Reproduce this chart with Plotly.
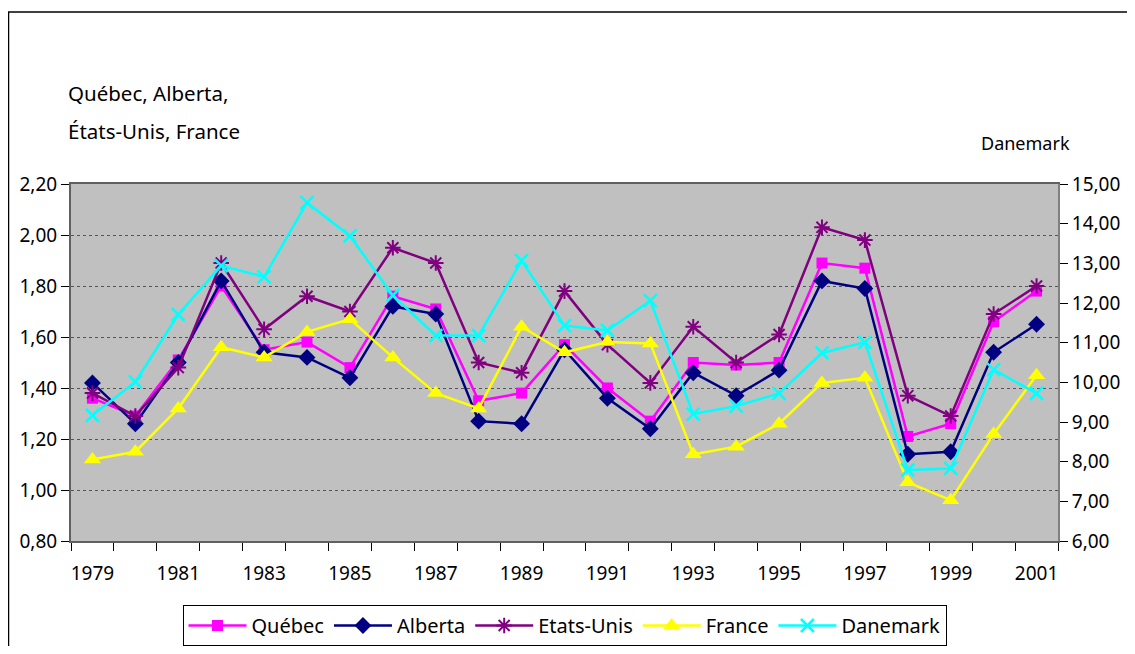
import plotly.graph_objects as go

years = list(range(1979, 2002))
quebec = [1.36, 1.29, 1.51, 1.80, 1.55, 1.58, 1.48, 1.76, 1.71, 1.35, 1.38, 1.57, 1.40, 1.27,
          1.50, 1.49, 1.50, 1.89, 1.87, 1.21, 1.26, 1.66, 1.78]
alberta = [1.42, 1.26, 1.50, 1.82, 1.54, 1.52, 1.44, 1.72, 1.69, 1.27, 1.26, 1.55, 1.36, 1.24,
           1.46, 1.37, 1.47, 1.82, 1.79, 1.14, 1.15, 1.54, 1.65]
etats_unis = [1.38, 1.29, 1.48, 1.89, 1.63, 1.76, 1.70, 1.95, 1.89, 1.50, 1.46, 1.78, 1.57, 1.42,
              1.64, 1.50, 1.61, 2.03, 1.98, 1.37, 1.29, 1.69, 1.80]
france = [1.12, 1.15, 1.32, 1.56, 1.52, 1.62, 1.67, 1.52, 1.38, 1.32, 1.64, 1.54, 1.58, 1.575,
          1.14, 1.17, 1.26, 1.42, 1.44, 1.03, 0.96, 1.22, 1.45]
danemark = [9.17, 10.01, 11.71, 12.94, 12.66, 14.53, 13.69, 12.19, 11.18, 11.18, 13.07, 11.43,
            11.31, 12.06, 9.20, 9.40, 9.72, 10.74, 11.01, 7.79, 7.83, 10.32, 9.72]

OFF = 8  # page body margin offset
W, H = 1135 - 2 * OFF, 654 - 2 * OFF
L, R, T, B = 71 - OFF, 1058 - OFF, 184 - OFF, 541 - OFF
FONT = "Noto Sans"

def px(x):
    return (x - OFF - L) / (R - L)

def py(y):
    return (B - (y - OFF)) / (B - T)

fig = go.Figure()
fig.add_trace(go.Scatter(x=years, y=quebec, name="Québec", mode="lines+markers",
                         line=dict(color="#FF00FF", width=2.5),
                         marker=dict(symbol="square", size=11, color="#FF00FF")))
fig.add_trace(go.Scatter(x=years, y=alberta, name="Alberta", mode="lines+markers",
                         line=dict(color="#000080", width=2.5),
                         marker=dict(symbol="diamond", size=13, color="#000080")))
fig.add_trace(go.Scatter(x=years, y=etats_unis, name="Etats-Unis", mode="lines+markers",
                         line=dict(color="#800080", width=2.5),
                         marker=dict(symbol="asterisk-open", size=13,
                                     line=dict(color="#800080", width=2))))
fig.add_trace(go.Scatter(x=years, y=france, name="France", mode="lines+markers",
                         line=dict(color="#FFFF00", width=2.5),
                         marker=dict(symbol="triangle-up", size=15, color="#FFFF00")))
fig.add_trace(go.Scatter(x=years, y=danemark, name="Danemark", mode="lines+markers", yaxis="y2",
                         line=dict(color="#00FFFF", width=2.5),
                         marker=dict(symbol="x-thin-open", size=13,
                                     line=dict(color="#00FFFF", width=2.5))))

fig.update_layout(
    width=W, height=H,
    margin=dict(l=L, r=W - R, t=T, b=H - B, autoexpand=False),
    paper_bgcolor="white", plot_bgcolor="#C0C0C0",
    separators=", ",
    font=dict(family=FONT, size=19, color="black"),
    showlegend=True,
    legend=dict(orientation="h", x=0.5, xanchor="center", y=py(605), yanchor="top",
                bgcolor="white", bordercolor="black", borderwidth=1,
                font=dict(family=FONT, size=20), itemwidth=58, tracegroupgap=0),
    xaxis=dict(range=[1978.5, 2001.5], tickmode="array", tickvals=years[::2],
               ticks="", showgrid=False, zeroline=False,
               showline=True, linecolor="#606060", linewidth=2, mirror=True,
               ticklabelstandoff=14,
               tickfont=dict(family=FONT, size=19),
               minor=dict(tickmode="array", tickvals=[1978.5 + i for i in range(24)],
                          ticks="outside", ticklen=8, tickcolor="black", tickwidth=1,
                          showgrid=False)),
    yaxis=dict(range=[0.8, 2.2], dtick=0.2, tick0=0.8, tickformat=".2f",
               ticks="outside", ticklen=8, tickcolor="black",
               showgrid=True, gridcolor="#555555", griddash="dot", gridwidth=1,
               zeroline=False, showline=True, linecolor="#606060", linewidth=2,
               tickfont=dict(family=FONT, size=19)),
    yaxis2=dict(range=[6, 15], dtick=1, tick0=6, tickformat=".2f", overlaying="y", side="right",
                ticks="outside", ticklen=8, tickcolor="black",
                showgrid=False, zeroline=False, showline=True, linecolor="#808080", linewidth=2,
                tickfont=dict(family=FONT, size=19)),
    annotations=[
        dict(text="Québec, Alberta,", xref="paper", yref="paper", x=px(66), y=py(93),
             xanchor="left", yanchor="middle", showarrow=False, font=dict(size=20.5)),
        dict(text="États-Unis, France", xref="paper", yref="paper", x=px(66), y=py(131),
             xanchor="left", yanchor="middle", showarrow=False, font=dict(size=20.5)),
        dict(text="Danemark", xref="paper", yref="paper", x=px(979), y=py(143),
             xanchor="left", yanchor="middle", showarrow=False, font=dict(size=18)),
    ],
    shapes=[
        dict(type="line", xref="paper", yref="paper", x0=px(8), x1=px(1150), y0=py(12), y1=py(12),
             line=dict(color="black", width=1.5)),
        dict(type="line", xref="paper", yref="paper", x0=px(8.5), x1=px(8.5), y0=py(12), y1=py(670),
             line=dict(color="black", width=1.5)),
    ],
)

fig.write_html("out.html")
